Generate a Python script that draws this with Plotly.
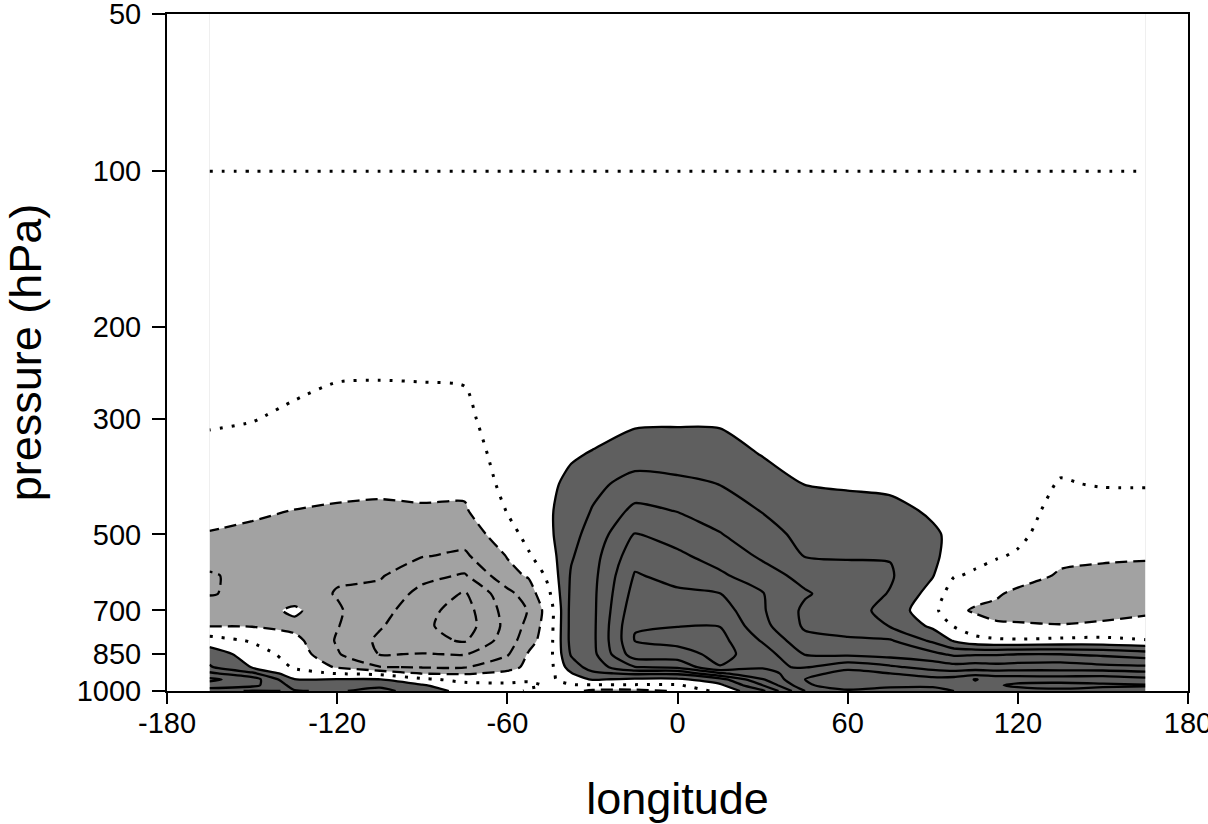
import numpy as np
import plotly.graph_objects as go

lon = [-165, -150, -135, -120, -105, -90, -75, -60, -52.5, -45, -37.5, -30,
       -15, 0, 15, 30, 45, 60, 75, 90, 97.5, 105, 112.5, 120, 135, 150, 165]
pressure = [1000, 975, 950, 925, 900, 850, 800, 750, 700, 650, 600, 550,
            500, 450, 400, 350, 300, 250, 200, 150, 100, 70, 50]

# vertical profiles (1000 hPa -> 50 hPa), one per longitude
profiles = [
    [2.4, 3.6, 4.2, 3.2, 2.1, 1.6, 0.45, -1.05, -1.6, -2.05, -2.05, -1.8, -1.05, -0.7, -0.4, -0.15, 0.07, 0.2, 0.3, 0.3, -0.002, -0.2, -0.2],
    [1.9, 3.3, 3.5, 2.2, 0.95, 0.5, -0.1, -1.05, -1.5, -1.8, -1.85, -1.6, -1.25, -0.8, -0.45, -0.2, 0.02, 0.2, 0.3, 0.3, -0.002, -0.2, -0.2],
    [2.05, 1.7, 1.05, 0.3, -0.1, -0.4, -0.7, -1.3, -0.8, -1.6, -1.8, -1.7, -1.5, -1.02, -0.6, -0.3, -0.1, 0.12, 0.3, 0.3, -0.002, -0.2, -0.2],
    [1.9, 1.6, 1.05, -0.05, -1.1, -1.9, -2.1, -1.95, -1.9, -2.05, -1.9, -1.7, -1.45, -1.1, -0.75, -0.45, -0.25, 0.03, 0.25, 0.3, -0.002, -0.2, -0.2],
    [2.3, 1.8, 1.05, -0.3, -1.95, -3.05, -3.2, -2.9, -2.6, -2.3, -1.9, -1.6, -1.4, -1.15, -0.8, -0.5, -0.3, 0.02, 0.25, 0.3, -0.002, -0.2, -0.2],
    [1.5, 1.1, 0.2, -1.05, -2.05, -2.95, -3.7, -3.8, -3.7, -3.3, -2.7, -1.95, -1.45, -1.1, -0.75, -0.45, -0.25, 0.03, 0.25, 0.3, -0.002, -0.2, -0.2],
    [0.7, 0.3, -0.3, -1.1, -2.05, -3.05, -4.1, -4.5, -4.4, -4.1, -3.1, -2.15, -1.6, -1.1, -0.8, -0.45, -0.15, 0.04, 0.25, 0.3, -0.002, -0.2, -0.2],
    [0.3, 0.2, -0.3, -0.8, -1.3, -2.1, -2.5, -2.7, -2.6, -2.3, -1.3, -0.95, -0.4, 0.05, 0.3, 0.4, 0.4, 0.4, 0.35, 0.3, -0.002, -0.2, -0.2],
    [-0.1, 0.15, -0.1, -0.4, -0.8, -0.9, -1.4, -1.7, -1.95, -1.5, -0.9, -0.1, 0.3, 0.5, 0.55, 0.5, 0.45, 0.4, 0.35, 0.3, -0.002, -0.2, -0.2],
    [-0.5, -0.1, -0.2, -0.3, -0.3, -0.3, -0.35, -0.4, -0.45, -0.05, 0.3, 0.6, 0.85, 0.9, 0.85, 0.6, 0.45, 0.4, 0.35, 0.3, -0.002, -0.2, -0.2],
    [-0.7, -0.1, 0.5, 0.95, 1.5, 2.1, 2.3, 2.3, 2.3, 2.2, 2.1, 1.9, 1.7, 1.5, 1.2, 0.9, 0.5, 0.4, 0.35, 0.3, -0.002, -0.2, -0.2],
    [-1.2, -0.1, 1.1, 1.8, 2.4, 2.7, 2.75, 2.75, 2.75, 2.75, 2.7, 2.6, 2.35, 2.05, 1.75, 1.05, 0.6, 0.45, 0.35, 0.3, -0.002, -0.2, -0.2],
    [-1.3, -0.1, 0.8, 2.2, 3.95, 5.6, 6.02, 5.98, 5.69, 5.39, 5.09, 4.62, 4.06, 3.25, 2.35, 1.52, 0.8, 0.5, 0.4, 0.3, -0.002, -0.2, -0.2],
    [-0.9, -0.1, 0.8, 2.2, 4.2, 5.6, 6.3, 5.98, 5.57, 5.16, 4.69, 4.19, 3.6, 2.96, 2.21, 1.49, 0.85, 0.5, 0.4, 0.3, -0.002, -0.2, -0.2],
    [0.3, 0.8, 1.6, 3.9, 5.95, 6.3, 6.3, 5.98, 5.5, 5.02, 4.17, 3.58, 3.05, 2.52, 1.98, 1.4, 0.85, 0.5, 0.4, 0.3, -0.002, -0.2, -0.2],
    [1.8, 3.0, 3.95, 4.6, 5.1, 5.5, 4.9, 4.3, 4.1, 4.05, 3.4, 2.85, 2.4, 1.95, 1.45, 0.95, 0.6, 0.45, 0.35, 0.3, -0.002, -0.2, -0.2],
    [5.0, 5.8, 6.0, 5.6, 4.95, 3.95, 3.3, 2.85, 2.8, 3.1, 2.7, 1.95, 1.7, 1.35, 0.98, 0.75, 0.5, 0.4, 0.35, 0.3, -0.002, -0.2, -0.2],
    [5.8, 6.7, 6.9, 6.4, 5.7, 3.8, 3.1, 2.7, 2.5, 2.5, 2.4, 1.9, 1.65, 1.3, 0.9, 0.65, 0.45, 0.4, 0.35, 0.3, -0.002, -0.2, -0.2],
    [5.5, 6.3, 6.6, 6.0, 5.2, 3.6, 3.1, 1.95, 1.6, 1.95, 2.1, 1.95, 1.5, 1.2, 0.85, 0.6, 0.45, 0.4, 0.35, 0.3, -0.002, -0.2, -0.2],
    [5.6, 6.2, 6.3, 5.5, 4.6, 3.3, 1.8, 0.8, 0.3, 0.6, 1.05, 1.2, 1.1, 0.9, 0.7, 0.5, 0.4, 0.35, 0.3, 0.3, -0.002, -0.2, -0.2],
    [6.0, 6.6, 6.4, 5.4, 4.4, 2.8, 0.9, -0.05, -0.8, -0.5, 0.05, 0.6, 0.85, 0.75, 0.6, 0.45, 0.4, 0.35, 0.3, 0.3, -0.002, -0.2, -0.2],
    [6.2, 6.8, 7.05, 5.6, 4.5, 2.9, 0.3, -0.6, -1.1, -0.7, -0.1, 0.2, 0.5, 0.55, 0.5, 0.4, 0.35, 0.35, 0.3, 0.3, -0.002, -0.2, -0.2],
    [6.3, 6.9, 6.6, 5.5, 4.4, 2.9, 0.15, -0.9, -1.2, -0.9, -0.4, 0.08, 0.35, 0.45, 0.45, 0.4, 0.35, 0.35, 0.3, 0.3, -0.002, -0.2, -0.2],
    [6.6, 7.2, 6.6, 5.5, 4.5, 3.0, 0.1, -0.9, -1.3, -1.2, -0.6, -0.1, 0.2, 0.3, 0.35, 0.35, 0.3, 0.3, 0.3, 0.3, -0.002, -0.2, -0.2],
    [6.8, 7.3, 6.6, 5.4, 4.6, 3.0, 0.2, -0.95, -1.4, -1.4, -1.1, -0.8, -0.5, -0.25, -0.05, 0.2, 0.3, 0.3, 0.3, 0.3, -0.002, -0.2, -0.2],
    [6.6, 7.2, 6.5, 5.6, 4.3, 2.8, 0.25, -0.85, -1.3, -1.45, -1.25, -0.85, -0.6, -0.35, 0.05, 0.25, 0.3, 0.3, 0.3, 0.3, -0.002, -0.2, -0.2],
    [6.5, 7.1, 6.3, 5.3, 4.2, 2.5, 0.05, -0.8, -1.1, -1.4, -1.3, -0.9, -0.6, -0.3, 0.05, 0.2, 0.3, 0.3, 0.3, 0.3, -0.002, -0.2, -0.2],
]

x_ticks = [-180, -120, -60, 0, 60, 120, 180]
x_ticktext = ["-180", "-120", "-60", "0", "60", "120", "180"]
y_ticks = [50, 100, 200, 300, 500, 700, 850, 1000]
y_ticktext = ["50", "100", "200", "300", "500", "700", "850", "1000"]

z = np.array(profiles).T  # rows = pressure, cols = longitude

DARK = "#5f5f5f"
LIGHT = "#a2a2a2"
SMOOTH = 0.7
FONT = "Liberation Sans, Arial, sans-serif"

fig = go.Figure()

# shaded bands: < -1 light gray, -1..1 white, > 1 dark gray
fig.add_trace(go.Contour(
    x=lon, y=pressure, z=z,
    autocontour=False,
    contours=dict(start=-1, end=1, size=2, coloring="fill", showlines=False),
    colorscale=[[0, LIGHT], [0.5, "#ffffff"], [1, DARK]],
    line=dict(width=0, smoothing=SMOOTH),
    showscale=False, hoverinfo="skip",
))
# negative contours (dashed)
fig.add_trace(go.Contour(
    x=lon, y=pressure, z=z,
    autocontour=False,
    contours=dict(start=-4, end=-1, size=1, coloring="none"),
    line=dict(color="black", width=2.3, dash="12px,6px", smoothing=SMOOTH),
    showscale=False, hoverinfo="skip",
))
# zero contour (dotted)
fig.add_trace(go.Contour(
    x=lon, y=pressure, z=z,
    autocontour=False,
    contours=dict(start=0, end=0, size=1, coloring="none"),
    line=dict(color="black", width=3, dash="3px,9px", smoothing=SMOOTH),
    showscale=False, hoverinfo="skip",
))
# positive contours (solid)
fig.add_trace(go.Contour(
    x=lon, y=pressure, z=z,
    autocontour=False,
    contours=dict(start=1, end=7, size=1, coloring="none"),
    line=dict(color="black", width=2.3, smoothing=SMOOTH),
    showscale=False, hoverinfo="skip",
))

fig.update_layout(
    width=1208, height=824,
    margin=dict(l=167, r=20, t=14, b=133, autoexpand=False),
    paper_bgcolor="white", plot_bgcolor="white",
    font=dict(family=FONT, color="black"),
    showlegend=False,
)
fig.update_xaxes(
    automargin=False,
    range=[-180, 180], tickvals=x_ticks, ticktext=x_ticktext,
    ticks="outside", ticklen=11, tickwidth=2, tickcolor="black",
    showline=True, linecolor="black", linewidth=2, mirror=True,
    showgrid=False, zeroline=False,
    tickfont=dict(size=29), ticklabelstandoff=-6, ticklabeloverflow="allow",
    title=dict(text="longitude", font=dict(size=45), standoff=46),
)
fig.update_yaxes(
    automargin=False,
    type="log", range=[np.log10(1000), np.log10(50)],
    tickvals=y_ticks, ticktext=y_ticktext,
    ticks="outside", ticklen=13, tickwidth=2, tickcolor="black",
    showline=True, linecolor="black", linewidth=2, mirror=True,
    showgrid=False, zeroline=False,
    tickfont=dict(size=29), ticklabelstandoff=5, ticklabeloverflow="allow",
    title=dict(text="pressure (hPa)", font=dict(size=45), standoff=26),
)

fig.write_html("out.html")
